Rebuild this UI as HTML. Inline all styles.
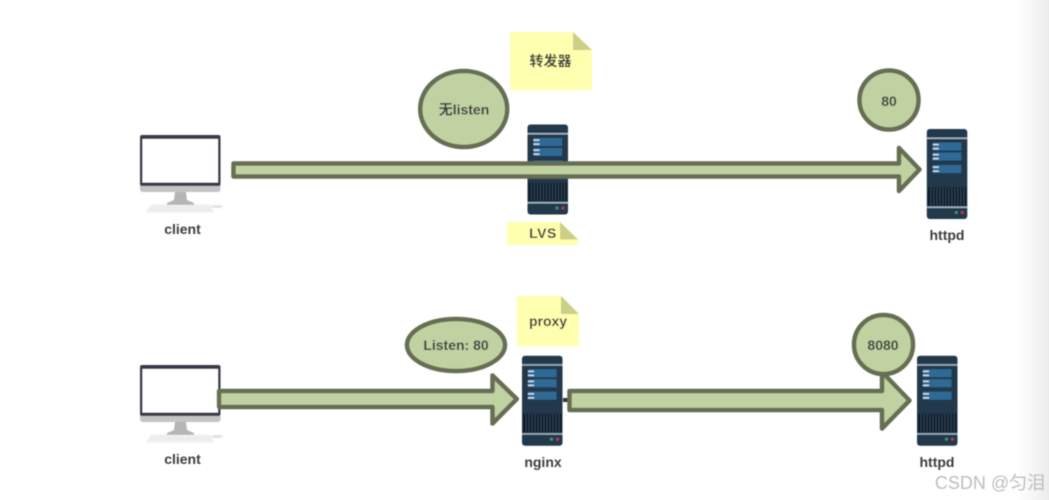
<!DOCTYPE html>
<html>
<head>
<meta charset="utf-8">
<style>
html,body{margin:0;padding:0;background:#fff;width:1049px;height:500px;overflow:hidden}
svg{display:block}
text{font-family:"Liberation Sans","Noto Sans CJK SC",sans-serif;font-size:14px;font-weight:bold;fill:#3c3c3c;text-anchor:middle}
</style>
</head>
<body>
<svg width="1049" height="500" viewBox="0 0 1049 500" xmlns="http://www.w3.org/2000/svg">
<defs>
<linearGradient id="edge" x1="0" x2="1" y1="0" y2="0">
<stop offset="0" stop-color="#fff"/><stop offset="1" stop-color="#ececec"/>
</linearGradient>
<filter id="soft" x="-5%" y="-5%" width="110%" height="110%"><feGaussianBlur stdDeviation="0.5"/></filter>
<g id="server">
<rect x="0" y="0" width="40.500" height="90" rx="3" fill="#22384b"/>
<rect x="0" y="8.500" width="40.500" height="1.500" fill="#a3b4c1"/>
<rect x="6" y="13.500" width="28.500" height="8" fill="#2f6a95"/>
<rect x="6" y="23.500" width="28.500" height="8" fill="#2f6a95"/>
<rect x="6" y="36" width="28.500" height="8" fill="#2f6a95"/>
<g fill="#dfe9f1">
<rect x="6" y="15" width="6" height="1.300"/><rect x="6" y="19" width="6" height="1.300"/>
<rect x="6" y="25" width="6" height="1.300"/><rect x="6" y="29" width="6" height="1.300"/>
<rect x="6" y="37.500" width="6" height="1.300"/><rect x="6" y="41.500" width="6" height="1.300"/>
</g>
<rect x="1" y="58" width="38.500" height="19" fill="#0f1c2b"/>
<path d="M4 58v19M7 58v19M10 58v19M13 58v19M16 58v19M19 58v19M22 58v19M25 58v19M28 58v19M31 58v19M34 58v19M37 58v19" stroke="#3a5063" stroke-width="0.800"/>
<rect x="0" y="77.500" width="40.500" height="1.500" fill="#a3b4c1"/>
<circle cx="29.500" cy="83.500" r="1.500" fill="#3f9a6b"/>
<circle cx="35.500" cy="83.500" r="1.500" fill="#b5395a"/>
</g>
<g id="pc">
<path d="M0 49H80.500V54Q80.500 57 77.500 57H3Q0 57 0 54Z" fill="#c4c4c4"/>
<rect x="0" y="0" width="80.500" height="51" rx="2" fill="#3a3b4a"/>
<rect x="2.500" y="4" width="75.500" height="43.500" fill="#fff"/>
<path d="M35 57H46L47 65L54 68V70H27V68L34 65Z" fill="#b5b5b5"/>
<path d="M11 70H70L73 77H7Z" fill="#f1f1f1" stroke="#e6e6e6" stroke-width="0.600"/>
<path d="M12 72.500H70M10 74.500H71" stroke="#dedede" stroke-width="0.700" stroke-dasharray="2 1"/>
<ellipse cx="77" cy="71.500" rx="6" ry="1.600" fill="#e2e2e2"/>
</g>
</defs>

<rect x="1018" y="0" width="31" height="500" fill="url(#edge)"/>

<g filter="url(#soft)">
<use href="#pc" x="140" y="135"/>
<use href="#pc" x="140" y="365"/>
<use href="#server" x="527.500" y="124.500"/>
<use href="#server" x="926.800" y="129"/>
<use href="#server" x="522" y="355.700"/>
<use href="#server" x="917" y="355.700"/>

<rect x="563" y="398" width="6" height="4" fill="#333"/>

<g fill="#c0d1a2" stroke="#666e52" stroke-width="4.500" stroke-linejoin="round">
<path d="M233.500 163.500H899V148L919.500 169.500L899 191V176.500H233.500Z"/>
<path d="M219 391H492.500V375.500L516.800 399L492.500 423.500V407H219Z"/>
<path d="M569.500 391H882V372L909.500 400.500L882 428.500V410H569.500Z"/>
<ellipse cx="463.700" cy="109" rx="43.500" ry="38"/>
<circle cx="889" cy="100" r="29.500"/>
<ellipse cx="456" cy="345" rx="49" ry="26"/>
<circle cx="883.500" cy="344.500" r="29.500"/>
</g>

<path d="M510 32H573L592 50V90H510Z" fill="#ffffb0"/>
<path d="M573 32L592 50H573Z" fill="#cccf85"/>
<path d="M507 222H560L578 239V245H507Z" fill="#ffffb0"/>
<path d="M560 222L578 239.500H560Z" fill="#cccf85"/>
<path d="M517 296H561L579 314V346H517Z" fill="#ffffb0"/>
<path d="M561 296L579 314H561Z" fill="#cccf85"/>

<text x="550.500" y="66">转发器</text>
<text x="464" y="114.500">无listen</text>
<text x="889" y="106">80</text>
<text x="543" y="238" style="letter-spacing:.5px">LVS</text>
<text x="548" y="326">proxy</text>
<text x="456" y="350">Listen: 80</text>
<text x="883" y="350">8080</text>
<text x="182.500" y="234">client</text>
<text x="182.500" y="464">client</text>
<text x="947" y="240">httpd</text>
<text x="543" y="467">nginx</text>
<text x="937" y="467">httpd</text>
<text x="990" y="489" style="font-size:18px;font-weight:normal;fill:#bdbdbd">CSDN @匀泪</text>
</g>
</svg>
</body>
</html>
